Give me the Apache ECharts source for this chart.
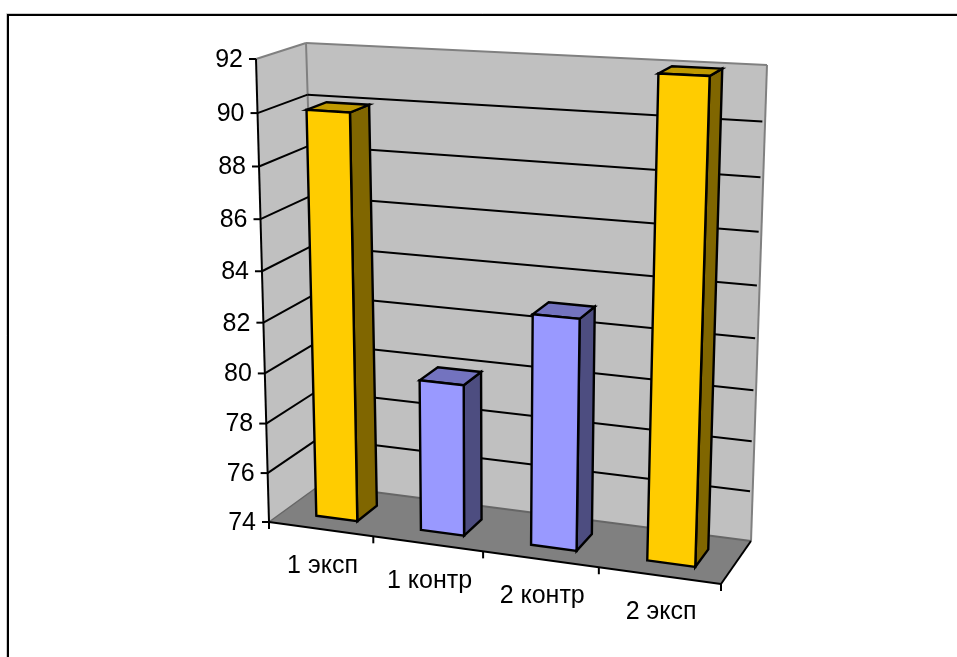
<!DOCTYPE html>
<html>
<head>
<meta charset="utf-8">
<style>
  html, body { margin: 0; padding: 0; background: #fff; }
  #chart { width: 957px; height: 657px; }
</style>
<script src="https://cdn.jsdelivr.net/npm/echarts@6/dist/echarts.min.js"></script>
</head>
<body>
<div id="chart"></div>
<script>
const categories = ['1 эксп', '1 контр', '2 контр', '2 эксп'];
const barValues = [90, 80, 83, 92];
const barKinds = ['exp', 'ctrl', 'ctrl', 'exp'];
const yTicks = [74, 76, 78, 80, 82, 84, 86, 88, 90, 92];

const palette = {
  exp: { front: '#ffcc00', side: '#806600', top: '#bf9900' },
  ctrl: { front: '#9999ff', side: '#4d4d80', top: '#7373bf' },
};

// screen corners of the chart box, [front/back][left/right][bottom/top]
const box = {
  flb: [269, 522], flt: [256, 59], frb: [721, 584], frt: [738, 83],
  blb: [320, 485], blt: [306, 43], brb: [751, 541], brt: [767, 65],
};

// perspective squeeze along each axis
const warp = (t, k) => (1 + k) * t / (1 + k * t);
const mix = (a, b, t) => [a[0] + (b[0] - a[0]) * t, a[1] + (b[1] - a[1]) * t];

function project(u, v, w) {
  const uu = warp(u, -0.1);
  const vv = warp(v, -0.055 - 0.02 * u);
  const ww = warp(w, 0.1);
  const fb = mix(box.flb, box.frb, uu);
  const ft = mix(box.flt, box.frt, uu);
  const bb = mix(box.blb, box.brb, uu);
  const bt = mix(box.blt, box.brt, uu);
  return mix(mix(fb, bb, ww), mix(ft, bt, ww), vv);
}

// grid position coming from the axes -> unit cube coords
function toUnit(api, params, cat, val) {
  const p = api.coord([cat, val]);
  const cs = params.coordSys;
  return [(p[0] - cs.x) / cs.width, (cs.y + cs.height - p[1]) / cs.height];
}

const poly = (points, fill, stroke, lineWidth) => ({
  type: 'polygon',
  shape: { points },
  style: { fill, stroke, lineWidth: lineWidth || 0 },
});
const seg = (a, b, stroke, lineWidth) => ({
  type: 'line',
  shape: { x1: a[0], y1: a[1], x2: b[0], y2: b[1] },
  style: { stroke, lineWidth },
});
const labelFont = '25px "Liberation Sans", Arial, sans-serif';

function renderWalls() {
  const c = box;
  return {
    type: 'group',
    children: [
      poly([c.flb, c.flt, c.blt, c.blb], '#c0c0c0'),
      poly([c.blb, c.blt, c.brt, c.brb], '#c0c0c0'),
      poly([c.flb, c.blb, c.brb, c.frb], '#808080'),
      seg(c.flt, c.blt, '#808080', 2),
      seg(c.blt, c.brt, '#808080', 2),
      seg(c.blt, c.blb, '#808080', 2),
      seg(c.brt, c.brb, '#808080', 2),
      seg(c.blb, c.brb, '#666666', 2),
      seg(c.flb, c.blb, '#666666', 1.5),
      seg(c.flb, c.flt, '#000', 2),
      seg(c.flb, c.frb, '#000', 2),
      seg(c.frb, c.brb, '#000', 2),
    ],
  };
}

function renderYTick(params, api) {
  const value = api.value(1);
  const v = toUnit(api, params, 0, value)[1];
  const front = project(0, v, 0);
  const back = project(0, v, 1);
  const right = project(1, v, 1);
  const children = [
    seg([front[0] - 7, front[1]], front, '#000', 2),
    {
      type: 'text',
      style: {
        text: String(value),
        x: front[0] - 13,
        y: front[1] + 1,
        textAlign: 'right',
        textVerticalAlign: 'middle',
        font: labelFont,
        fill: '#000',
      },
    },
  ];
  if (value !== 74 && value !== 92) {
    children.push(seg(front, back, '#000', 2));
    children.push(seg(back, mix(back, right, 0.994), '#000', 2));
  }
  return { type: 'group', children };
}

function renderCategory(params, api) {
  const i = api.value(0);
  const cs = params.coordSys;
  const band = api.size([1, 0])[0] / cs.width;
  const u = toUnit(api, params, i, 74)[0];
  const end = project(u + band / 2, 0, 0);
  const mid = project(u, 0, 0);
  const children = [
    {
      type: 'text',
      style: {
        text: categories[i],
        x: mid[0] + 2,
        y: mid[1] + 37,
        textAlign: 'center',
        textVerticalAlign: 'middle',
        font: labelFont,
        fill: '#000',
      },
    },
    seg(end, [end[0], end[1] + 7], '#000', 2),
  ];
  if (i === 0) {
    const start = project(0, 0, 0);
    children.push(seg(start, [start[0], start[1] + 7], '#000', 2));
  }
  return { type: 'group', children };
}

function renderBar(params, api) {
  const i = api.value(0);
  const cs = params.coordSys;
  const band = api.size([1, 0])[0] / cs.width;
  const top = toUnit(api, params, i, api.value(1));
  const u0 = top[0] - band * 0.178;
  const u1 = top[0] + band * 0.22;
  const v = top[1];
  const w0 = 0.27;
  const w1 = 0.68;
  const colors = palette[barKinds[i]];
  return {
    type: 'group',
    children: [
      poly([project(u1, 0, w0), project(u1, 0, w1), project(u1, v, w1), project(u1, v, w0)], colors.side, '#000', 2.4),
      poly([project(u0, v, w0), project(u1, v, w0), project(u1, v, w1), project(u0, v, w1)], colors.top, '#000', 2.4),
      poly([project(u0, 0, w0), project(u1, 0, w0), project(u1, v, w0), project(u0, v, w0)], colors.front, '#000', 2.4),
    ],
  };
}

const chart = echarts.init(document.getElementById('chart'), null, { renderer: 'canvas' });
chart.setOption({
  animation: false,
  backgroundColor: '#fff',
  graphic: [
    {
      type: 'rect',
      shape: { x: 6.5, y: 13.5, width: 960, height: 660 },
      style: { fill: 'none', stroke: '#cccccc', lineWidth: 1 },
      silent: true,
      z: 0,
    },
    {
      type: 'rect',
      shape: { x: 8, y: 15, width: 960, height: 660 },
      style: { fill: 'none', stroke: '#000', lineWidth: 2 },
      silent: true,
      z: 0,
    },
  ],
  grid: { left: 269, right: 236, top: 59, bottom: 135 },
  xAxis: { type: 'category', data: categories, show: false },
  yAxis: { type: 'value', min: 74, max: 92, interval: 2, show: false },
  series: [
    { type: 'custom', z: 1, clip: false, silent: true, renderItem: renderWalls, data: [[0, 74]] },
    { type: 'custom', z: 2, clip: false, silent: true, renderItem: renderYTick, data: yTicks.map((t) => [0, t]) },
    { type: 'custom', z: 2, clip: false, silent: true, renderItem: renderCategory, data: categories.map((c, i) => [i, 74]) },
    { type: 'custom', z: 3, clip: false, silent: true, renderItem: renderBar, data: barValues.map((v, i) => [i, v]) },
  ],
});
</script>
</body>
</html>
